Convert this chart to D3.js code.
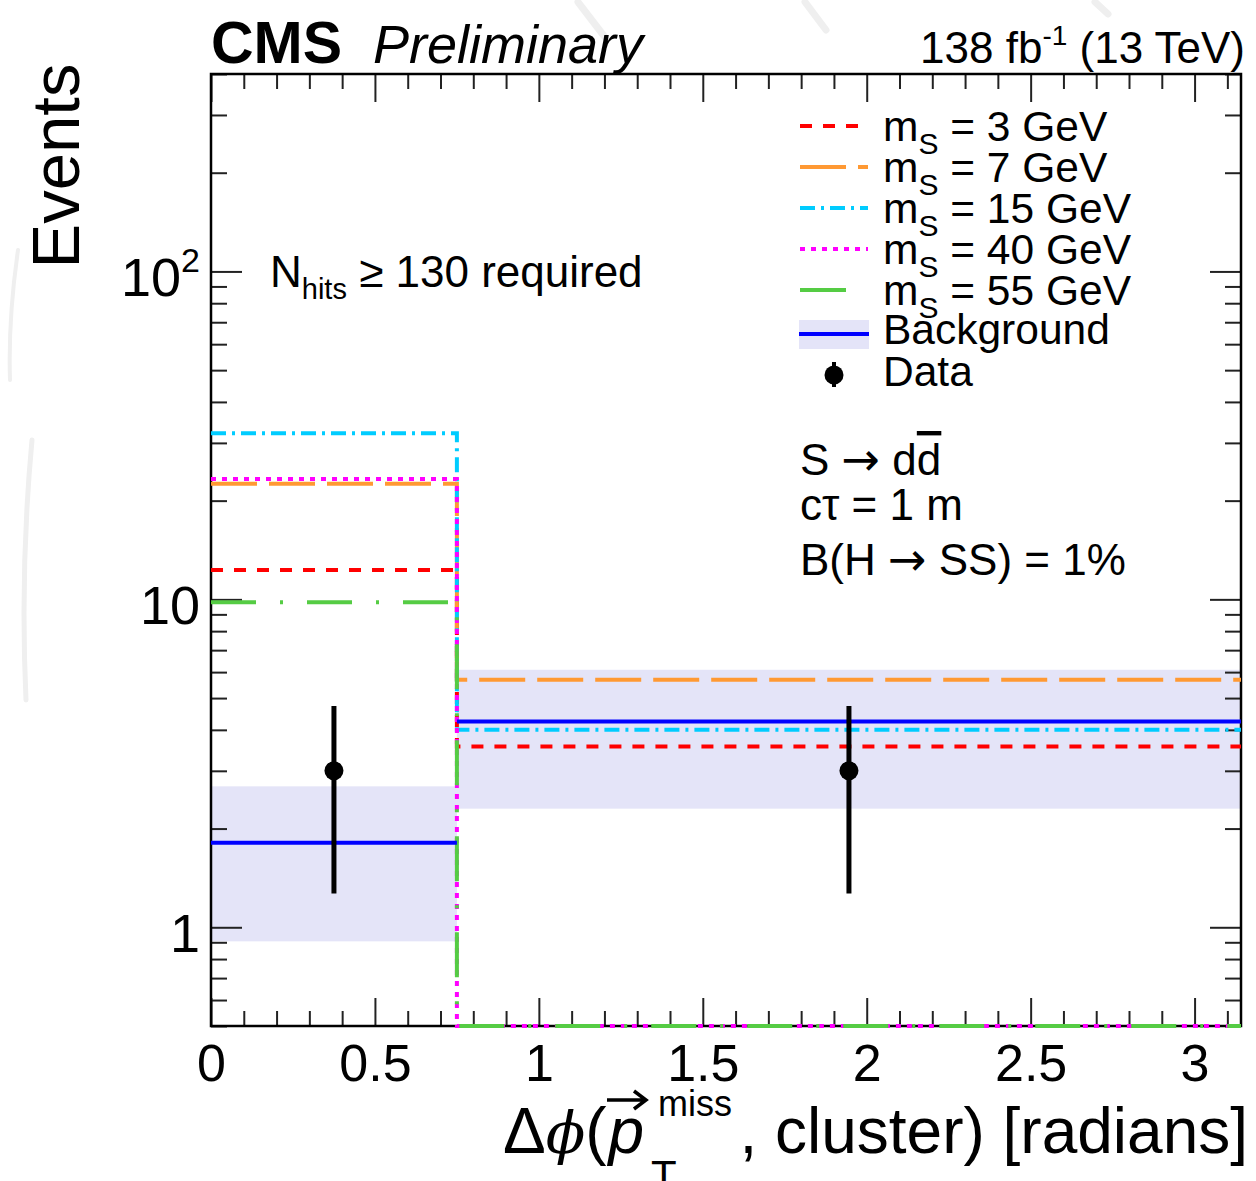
<!DOCTYPE html>
<html>
<head>
<meta charset="utf-8">
<script src="https://cdn.jsdelivr.net/npm/d3@7"></script>
<style>
  body { margin: 0; background: #fff; }
  text { font-family: "Liberation Sans", Arial, Helvetica, sans-serif; fill: #000; }
</style>
</head>
<body>
<svg id="chart" width="1256" height="1181"></svg>
<script>
// bin edges in delta phi
const binEdges = [0, 0.75, Math.PI];

// signal hypotheses (events per bin)
const massLabels = ["3", "7", "15", "40", "55"];
const sigBin1 = [12.3, 22.5, 32.1, 23.3, 9.8];
const sigBin2 = [3.56, 5.69, 4.0, 0, 0];

// background prediction with uncertainty band
const bkgValues = [1.81, 4.24];
const bkgLow = [0.906, 2.30];
const bkgHigh = [2.69, 6.10];

// observed data
const dataValues = [3, 3];

const xMajorTicks = [0, 0.5, 1, 1.5, 2, 2.5, 3];
const yMajorTicks = [1, 10, 100];

const svg = d3.select("#chart");
const pLeft = 211, pRight = 1241, pTop = 74, pBottom = 1026;

const x = d3.scaleLinear().domain([0, Math.PI]).range([pLeft, pRight]);
const y = d3.scaleLog().domain([0.5, 400]).range([pBottom, pTop]);
const yc = v => v <= 0.5 ? pBottom : y(v);

// faint watermark strokes
const wm = svg.append("g").attr("stroke", "#efefef").attr("stroke-width", 7).attr("fill", "none").attr("stroke-linecap", "round");
wm.append("line").attr("x1", 578).attr("y1", 2).attr("x2", 604).attr("y2", 36);
wm.append("line").attr("x1", 805).attr("y1", 2).attr("x2", 826).attr("y2", 30);
wm.append("line").attr("x1", 1095).attr("y1", 2).attr("x2", 1108).attr("y2", 14);
wm.append("path").attr("d", "M32,440 Q20,570 26,700").attr("stroke-width", 5);
wm.append("path").attr("d", "M18,250 Q8,320 10,380").attr("stroke-width", 4);

// background uncertainty band
svg.append("g").selectAll("rect")
  .data(bkgValues)
  .enter()
  .append("rect")
  .attr("x", (d, i) => x(binEdges[i]))
  .attr("width", (d, i) => x(binEdges[i + 1]) - x(binEdges[i]))
  .attr("y", (d, i) => y(bkgHigh[i]))
  .attr("height", (d, i) => y(bkgLow[i]) - y(bkgHigh[i]))
  .attr("fill", "#e4e4f8");

// axes
const xMinor = d3.range(0, 3.15, 0.1).filter(v => Math.abs(v * 2 - Math.round(v * 2)) > 1e-6);
const yMinor = [];
[0.1, 1, 10, 100].forEach(dec => {
  for (let k = 2; k <= 9; k++) {
    const v = dec * k;
    if (v >= 0.5 && v <= 400) yMinor.push(v);
  }
});

const styleAxis = g => {
  g.select(".domain").remove();
  g.selectAll("line").attr("stroke", "#222").attr("stroke-width", 2);
};

svg.append("g")
  .attr("transform", `translate(0,${pBottom})`)
  .call(d3.axisBottom(x).tickValues(xMajorTicks).tickSize(-28).tickPadding(18).tickFormat(d3.format("")))
  .call(styleAxis)
  .selectAll("text").attr("font-size", 52).attr("font-family", "Liberation Sans, Arial, sans-serif");
svg.append("g")
  .attr("transform", `translate(0,${pBottom})`)
  .call(d3.axisBottom(x).tickValues(xMinor).tickSize(-15).tickFormat(""))
  .call(styleAxis);
svg.append("g")
  .attr("transform", `translate(0,${pTop})`)
  .call(d3.axisTop(x).tickValues(xMajorTicks).tickSize(-28).tickFormat(""))
  .call(styleAxis);
svg.append("g")
  .attr("transform", `translate(0,${pTop})`)
  .call(d3.axisTop(x).tickValues(xMinor).tickSize(-15).tickFormat(""))
  .call(styleAxis);

const yAx = svg.append("g")
  .attr("transform", `translate(${pLeft},0)`)
  .call(d3.axisLeft(y).tickValues(yMajorTicks).tickSize(-31).tickPadding(11)
    .tickFormat(d => d === 100 ? "10" : String(d)))
  .call(styleAxis);
yAx.selectAll("text")
  .attr("font-size", 54)
  .attr("font-family", "Liberation Sans, Arial, sans-serif")
  .attr("dy", "0.45em")
  .each(function (d) {
    if (d === 100) {
      d3.select(this).append("tspan").attr("font-size", 34).attr("dy", "-0.7em").text("2");
    }
  });
svg.append("g")
  .attr("transform", `translate(${pLeft},0)`)
  .call(d3.axisLeft(y).tickValues(yMinor).tickSize(-16).tickFormat(""))
  .call(styleAxis);
svg.append("g")
  .attr("transform", `translate(${pRight},0)`)
  .call(d3.axisRight(y).tickValues(yMajorTicks).tickSize(-31).tickFormat(""))
  .call(styleAxis);
svg.append("g")
  .attr("transform", `translate(${pRight},0)`)
  .call(d3.axisRight(y).tickValues(yMinor).tickSize(-16).tickFormat(""))
  .call(styleAxis);

// frame
svg.append("rect")
  .attr("x", pLeft).attr("y", pTop)
  .attr("width", pRight - pLeft).attr("height", pBottom - pTop)
  .attr("fill", "none").attr("stroke", "#000").attr("stroke-width", 2.5);

// signal step histograms
const sigColors = ["#ff0000", "#ff9933", "#00ccff", "#ff00ff", "#55cc44"];
const sigDash = ["12,11", "46,12", "15,6,3,6", "5,6", "45,24,3,24"];

const stepPath = (v1, v2) =>
  `M${x(binEdges[0])},${yc(v1)}H${x(binEdges[1])}V${yc(v2)}H${x(binEdges[2])}`;

svg.append("g").selectAll("path")
  .data(massLabels)
  .enter()
  .append("path")
  .attr("d", (d, i) => stepPath(sigBin1[i], sigBin2[i]))
  .attr("fill", "none")
  .attr("stroke", (d, i) => sigColors[i])
  .attr("stroke-width", 4)
  .attr("stroke-dasharray", (d, i) => sigDash[i]);

// background line
svg.append("g").selectAll("line")
  .data(bkgValues)
  .enter()
  .append("line")
  .attr("x1", (d, i) => x(binEdges[i]))
  .attr("x2", (d, i) => x(binEdges[i + 1]))
  .attr("y1", d => y(d))
  .attr("y2", d => y(d))
  .attr("stroke", "#0000ff")
  .attr("stroke-width", 4);

// data points with sqrt(N) errors
const dataG = svg.append("g");
dataValues.forEach((d, i) => {
  const cx = x((binEdges[i] + binEdges[i + 1]) / 2);
  const err = Math.sqrt(d);
  dataG.append("line")
    .attr("x1", cx).attr("x2", cx)
    .attr("y1", y(d + err)).attr("y2", y(d - err))
    .attr("stroke", "#000").attr("stroke-width", 5);
  dataG.append("circle").attr("cx", cx).attr("cy", y(d)).attr("r", 9.5).attr("fill", "#000");
});

// header
svg.append("text").attr("x", 211).attr("y", 63)
  .attr("font-size", 59).attr("font-weight", "bold").text("CMS");
svg.append("text").attr("x", 373).attr("y", 63)
  .attr("font-size", 54).attr("font-style", "italic").text("Preliminary");
const lumi = svg.append("text").attr("x", 1245).attr("y", 63)
  .attr("font-size", 44).attr("text-anchor", "end");
lumi.append("tspan").text("138 fb");
lumi.append("tspan").attr("font-size", 28).attr("dy", -18).text("-1");
lumi.append("tspan").attr("dy", 18).text(" (13 TeV)");

// y title
svg.append("text")
  .attr("transform", "translate(79,166) rotate(-90)")
  .attr("text-anchor", "middle")
  .attr("font-size", 67).text("Events");

// x title
svg.append("text").attr("x", 1248).attr("y", 1153)
  .attr("font-size", 64).attr("text-anchor", "end")
  .text(", cluster) [radians]");
const xt = svg.append("text").attr("x", 503).attr("y", 1153).attr("font-size", 64);
xt.append("tspan").text("\u0394");
xt.append("tspan").attr("font-style", "italic").attr("font-family", "DejaVu Serif, serif").attr("font-size", 58).text("\u03d5");
xt.append("tspan").text("(");
xt.append("tspan").attr("font-style", "italic").attr("dx", 2).text("p");
svg.append("text").attr("x", 651).attr("y", 1190).attr("font-size", 42).text("T");
svg.append("text").attr("x", 658).attr("y", 1116).attr("font-size", 36).text("miss");
// arrow over p
svg.append("path")
  .attr("d", "M607,1100 L646,1100 M634,1091 L646,1100 L634,1109")
  .attr("fill", "none").attr("stroke", "#000").attr("stroke-width", 3.5);

// annotations
const nh = svg.append("text").attr("x", 270).attr("y", 287).attr("font-size", 44);
nh.append("tspan").text("N");
nh.append("tspan").attr("font-size", 29).attr("dy", 12).text("hits");
nh.append("tspan").attr("dy", -12).text(" \u2265 130 required");

const ann = svg.append("g").attr("font-size", 44);
const arrow = t => t.append("tspan").attr("font-family", "DejaVu Sans, sans-serif").attr("font-size", 46).text("\u2192");
const a1 = ann.append("text").attr("x", 800).attr("y", 475);
a1.append("tspan").text("S ");
arrow(a1);
a1.append("tspan").text(" d");
a1.append("tspan").attr("text-decoration", "overline").text("d");
ann.append("text").attr("x", 800).attr("y", 520).text("c\u03c4 = 1 m");
const a3 = ann.append("text").attr("x", 800).attr("y", 575);
a3.append("tspan").text("B(H ");
arrow(a3);
a3.append("tspan").text(" SS) = 1%");

// legend
const legY = [126, 167, 208, 249, 290];
const leg = svg.append("g");
massLabels.forEach((m, i) => {
  leg.append("line")
    .attr("x1", 800).attr("x2", i === 4 ? 846 : 868)
    .attr("y1", legY[i]).attr("y2", legY[i])
    .attr("stroke", sigColors[i]).attr("stroke-width", 4)
    .attr("stroke-dasharray", i === 4 ? null : sigDash[i]);
  const t = leg.append("text").attr("x", 883).attr("y", legY[i] + 15).attr("font-size", 42.5);
  t.append("tspan").text("m");
  t.append("tspan").attr("font-size", 30).attr("dy", 13).text("S");
  t.append("tspan").attr("dy", -13).text(` = ${m} GeV`);
});
leg.append("rect").attr("x", 799).attr("y", 320).attr("width", 70).attr("height", 29).attr("fill", "#e4e4f8");
leg.append("line").attr("x1", 799).attr("x2", 869).attr("y1", 334).attr("y2", 334)
  .attr("stroke", "#0000ff").attr("stroke-width", 4);
leg.append("text").attr("x", 883).attr("y", 344).attr("font-size", 42.5).text("Background");
leg.append("line").attr("x1", 834).attr("x2", 834).attr("y1", 362).attr("y2", 387)
  .attr("stroke", "#000").attr("stroke-width", 4);
leg.append("circle").attr("cx", 834).attr("cy", 375).attr("r", 9.5).attr("fill", "#000");
leg.append("text").attr("x", 883).attr("y", 386).attr("font-size", 42.5).text("Data");
</script>
</body>
</html>
